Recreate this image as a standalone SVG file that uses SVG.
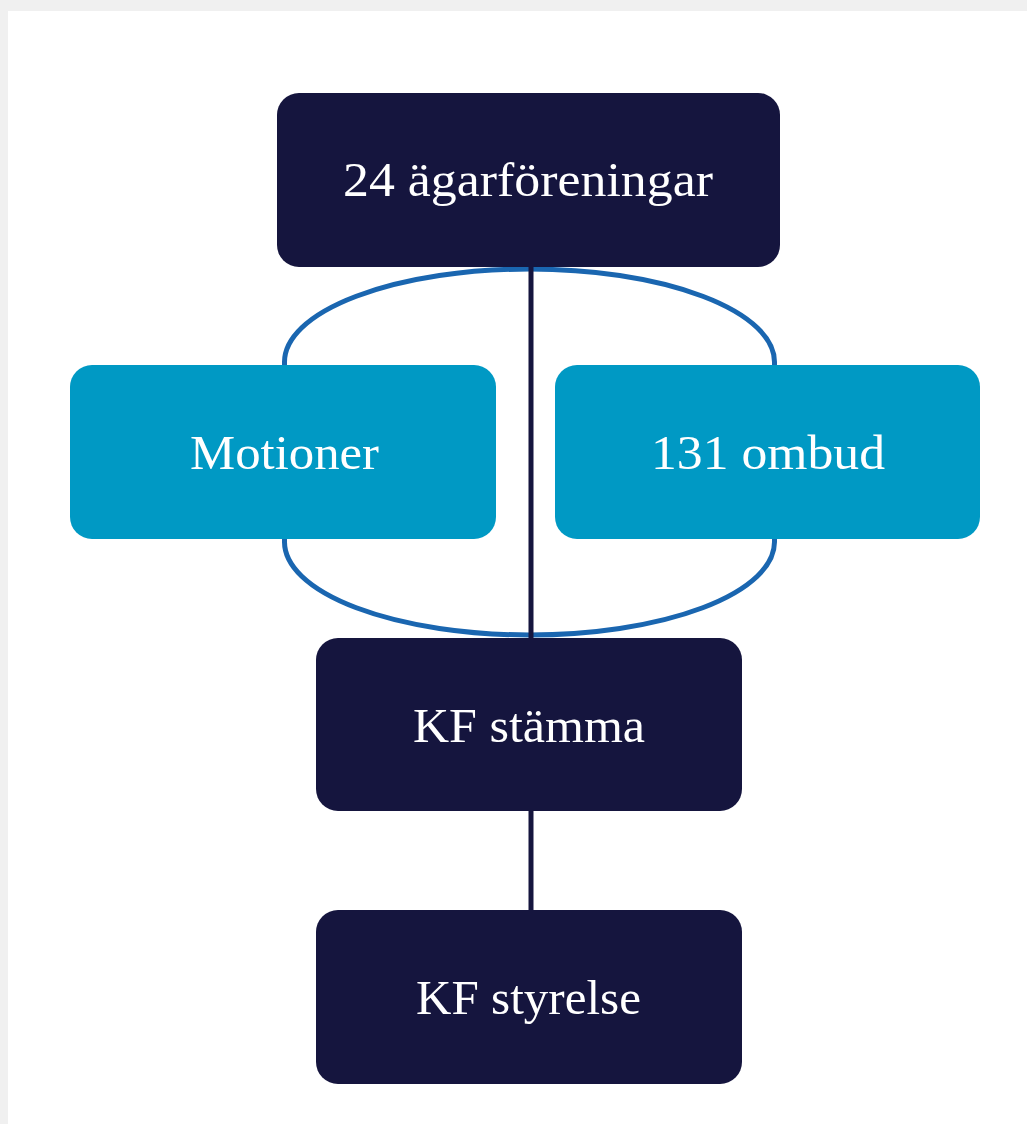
<svg xmlns="http://www.w3.org/2000/svg" width="1027" height="1124" viewBox="0 0 1027 1124">
<style>
.dark{fill:#15153e}
.cyan{fill:#0099c4}
.lbl{font-family:"Liberation Serif","DejaVu Serif",serif;font-size:48px;fill:#ffffff;text-anchor:middle}
.link{stroke:#15153e;stroke-width:5;fill:none}
.loop{stroke:#1a66b0;stroke-width:5;fill:none}
</style>
<rect x="0" y="0" width="1027" height="1124" fill="#f0f0f0"/>
<rect x="8" y="11" width="1019" height="1113" fill="#ffffff"/>
<g id="connectors">
<path class="loop" d="M 284.5 362 A 245 93 0 0 1 774.5 362 L 774.5 542 A 245 93 0 0 1 284.5 542 Z"/>
<line class="link" x1="531" y1="260" x2="531" y2="645"/>
<line class="link" x1="531" y1="805" x2="531" y2="915"/>
</g>
<g id="agarforeningar">
<rect class="dark" x="277" y="93" width="503" height="174" rx="22"/>
<text class="lbl" x="528" y="196" textLength="370" lengthAdjust="spacingAndGlyphs">24 ägarföreningar</text>
</g>
<g id="motioner">
<rect class="cyan" x="70" y="365" width="426" height="174" rx="22"/>
<text class="lbl" x="284.5" y="469" textLength="189" lengthAdjust="spacingAndGlyphs">Motioner</text>
</g>
<g id="ombud">
<rect class="cyan" x="555" y="365" width="425" height="174" rx="22"/>
<text class="lbl" x="768" y="469" textLength="234" lengthAdjust="spacingAndGlyphs">131 ombud</text>
</g>
<g id="kf-stamma">
<rect class="dark" x="316" y="638" width="426" height="173" rx="22"/>
<text class="lbl" x="529" y="742" textLength="232" lengthAdjust="spacingAndGlyphs">KF stämma</text>
</g>
<g id="kf-styrelse">
<rect class="dark" x="316" y="910" width="426" height="174" rx="22"/>
<text class="lbl" x="528.5" y="1014" textLength="225" lengthAdjust="spacingAndGlyphs">KF styrelse</text>
</g>
</svg>
